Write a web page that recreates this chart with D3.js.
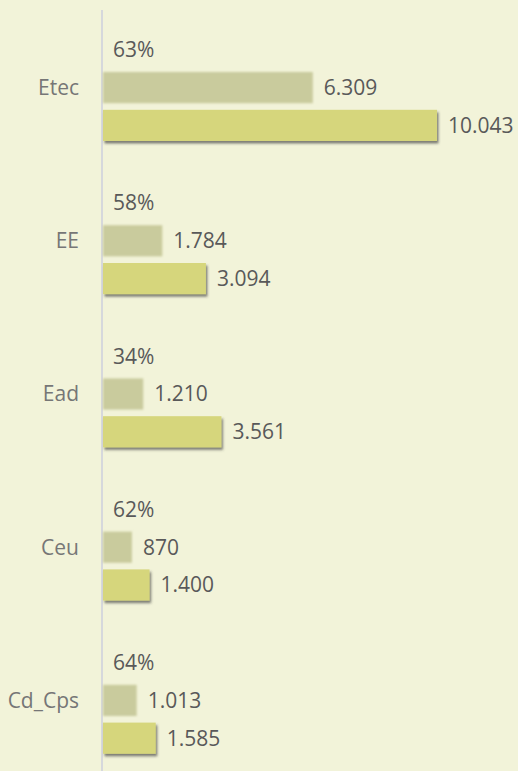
<!DOCTYPE html>
<html>
<head>
<meta charset="utf-8">
<script src="https://cdn.jsdelivr.net/npm/d3@7/dist/d3.min.js"></script>
<style>
html,body{margin:0;padding:0;background:#F2F3D9;}
svg{display:block;}
text{font-family:"Open Sans",sans-serif;}
</style>
</head>
<body>
<div id="chart"></div>
<script>
const categories = ["Etec", "EE", "Ead", "Ceu", "Cd_Cps"];
const percentLabels = ["63%", "58%", "34%", "62%", "64%"];
const seriesA = [6309, 1784, 1210, 870, 1013];
const seriesB = [10043, 3094, 3561, 1400, 1585];
const valueLabelsA = ["6.309", "1.784", "1.210", "870", "1.013"];
const valueLabelsB = ["10.043", "3.094", "3.561", "1.400", "1.585"];

const W = 518, H = 771;
const svg = d3.select("#chart").append("svg").attr("width", W).attr("height", H);
svg.append("rect").attr("width", W).attr("height", H).attr("fill", "#F2F3D9");

const defs = svg.append("defs");
const blur = defs.append("filter").attr("id", "soft").attr("x", "-10%").attr("y", "-20%").attr("width", "120%").attr("height", "140%");
blur.append("feGaussianBlur").attr("stdDeviation", 1.3);
const sh = defs.append("filter").attr("id", "shadow").attr("x", "-5%").attr("y", "-10%").attr("width", "115%").attr("height", "140%");
sh.append("feDropShadow").attr("dx", 1.5).attr("dy", 2.5).attr("stdDeviation", 1.2).attr("flood-color", "#404040").attr("flood-opacity", 0.65);

const x0 = 103;
const x = d3.scaleLinear().domain([0, 10043]).range([x0, 437]);
const y = d3.scaleBand().domain(categories).range([11, 777]).padding(0);
const rows = d3.scaleBand().domain([0, 1, 2]).range([-60, 60]).padding(0.175);
const yc = (c, r) => y(c) + y.bandwidth() / 2 + rows(r) + rows.bandwidth() / 2;

// axis line
svg.append("line").attr("x1", 102).attr("x2", 102).attr("y1", 10).attr("y2", H)
  .attr("stroke", "#D6D8DC").attr("stroke-width", 2);

const g = svg.append("g");
categories.forEach((c, i) => {
  // series A (blurred)
  g.append("rect").attr("x", x(0)).attr("y", y(c) + y.bandwidth()/2 + rows(1))
    .attr("width", x(seriesA[i]) - x(0)).attr("height", rows.bandwidth())
    .attr("fill", "#C9CB9D").attr("filter", "url(#soft)");
  // series B (shadow)
  g.append("rect").attr("x", x(0)).attr("y", y(c) + y.bandwidth()/2 + rows(2))
    .attr("width", x(seriesB[i]) - x(0)).attr("height", rows.bandwidth())
    .attr("fill", "#D6D67B").attr("filter", "url(#shadow)");

  g.append("text").attr("x", 113).attr("y", yc(c, 0)).attr("dy", "0.35em")
    .attr("font-size", 21).attr("fill", "#595959").text(percentLabels[i]);
  g.append("text").attr("x", x(seriesA[i]) + 11).attr("y", yc(c, 1)).attr("dy", "0.35em")
    .attr("font-size", 21).attr("fill", "#595959").text(valueLabelsA[i]);
  g.append("text").attr("x", x(seriesB[i]) + 11).attr("y", yc(c, 2)).attr("dy", "0.35em")
    .attr("font-size", 21).attr("fill", "#595959").text(valueLabelsB[i]);
  g.append("text").attr("x", 79).attr("y", yc(c, 1)).attr("dy", "0.35em")
    .attr("text-anchor", "end").attr("font-size", 21).attr("fill", "#767676").text(c);
});
</script>
</body>
</html>
